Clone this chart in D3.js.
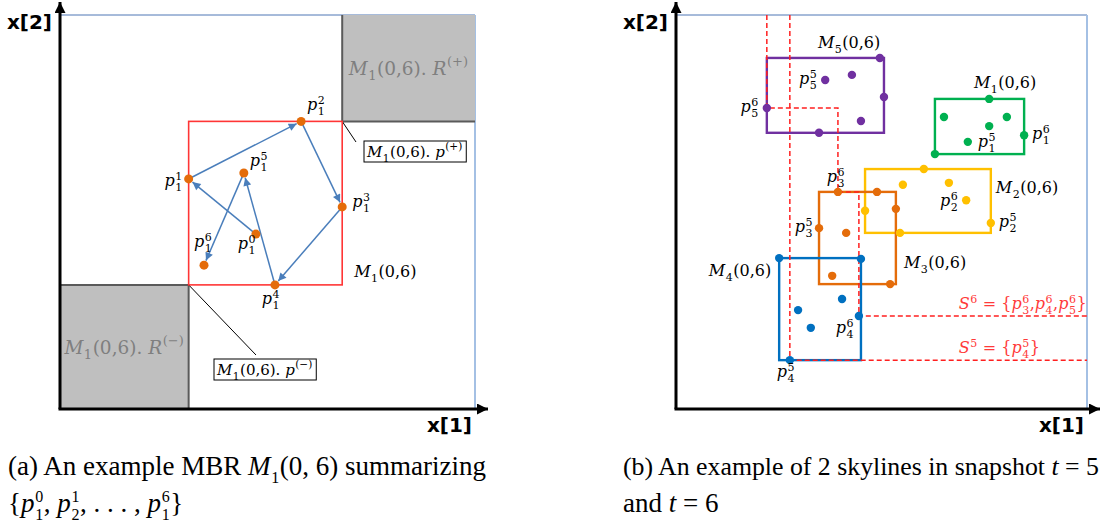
<!DOCTYPE html>
<html>
<head>
<meta charset="utf-8">
<script src="https://cdn.jsdelivr.net/npm/d3@7"></script>
<style>
  body { margin: 0; background: #fff; }
  svg { display: block; }
  text { white-space: pre; }
</style>
</head>
<body>
<div id="chart"></div>
<script>
// ---------- data (both panels use 0..100 on x[1] and x[2]) ----------

// panel (a): trajectory of object 1, snapshots t = 0..6
const trajT = [0, 1, 2, 3, 4, 5, 6]
const trajX = [47.2, 31.0, 58.1, 68.0, 51.8, 44.3, 34.7]
const trajY = [44.4, 58.4, 73.0, 51.3, 31.5, 59.9, 36.5]

// panel (b): five objects, index in each row = snapshot t
const objIds = [1, 2, 3, 4, 5]
const objX = [
    [76.2, 65.2, 80.5, 76.2, 63.0, 71.0, 84.7],
    [60.3, 55.2, 66.4, 46.0, 54.5, 76.6, 70.6],
    [48.9, 53.5, 41.4, 38.0, 52.1, 34.8, 39.4],
    [25.1, 45.0, 40.4, 29.7, 32.8, 27.7, 44.5],
    [49.6, 42.8, 50.6, 45.0, 34.8, 36.3, 22.1]
]
const objY = [
    [78.7, 74.1, 74.1, 71.8, 64.7, 67.8, 69.5],
    [60.9, 56.9, 57.4, 50.3, 44.7, 47.2, 53.0],
    [55.1, 50.8, 44.7, 33.8, 31.7, 45.9, 55.1],
    [38.3, 38.1, 27.9, 25.1, 20.6, 12.4, 23.6],
    [89.1, 84.8, 79.2, 73.1, 70.1, 83.5, 76.4]
]
const skylineTimes = [5, 6]

// ---------- styles / layout ----------
const width = 1110
const height = 527
const objColors = ["#00b050", "#ffc000", "#e46c0a", "#0070c0", "#7030a0"]
const pointColor = "#e46c0a"
const arrowColor = "#4a7ebb"
const skyColor = "#ff1f1f"
const mathFont = "DejaVu Serif"
const capFont = "Liberation Serif"

// label offsets in pixels from the point they name
const trajLabelLayout = [
    {dx: -9, dy: 15, a: "middle"},
    {dx: -6, dy: 7, a: "end"},
    {dx: 6, dy: -11, a: "start"},
    {dx: 10, dy: 0, a: "start"},
    {dx: -4, dy: 19, a: "middle"},
    {dx: 6, dy: -7, a: "start"},
    {dx: -1, dy: -18, a: "middle"}
]
const pointLabelLayout = [
    {o: 5, t: 5, dx: -8, dy: 4, a: "end"},
    {o: 5, t: 6, dx: -8, dy: 4, a: "end"},
    {o: 1, t: 5, dx: 10, dy: 5, a: "start"},
    {o: 1, t: 6, dx: 8, dy: 4, a: "start"},
    {o: 2, t: 6, dx: -8, dy: 6, a: "end"},
    {o: 2, t: 5, dx: 8, dy: 4, a: "start"},
    {o: 3, t: 6, dx: -2, dy: -10, a: "middle"},
    {o: 3, t: 5, dx: -6, dy: 4, a: "end"},
    {o: 4, t: 6, dx: -14, dy: 17, a: "middle"},
    {o: 4, t: 5, dx: -4, dy: 17, a: "middle"}
]
// MBR name labels: corner of the box (l/r, t/b) plus offset
const mbrLabelLayout = [
    {corner: "lt", dx: 39, dy: -11, a: "start"},
    {corner: "rt", dx: 5, dy: 24, a: "start"},
    {corner: "rb", dx: 8, dy: -16, a: "start"},
    {corner: "lt", dx: -8, dy: 18, a: "end"},
    {corner: "rt", dx: -66, dy: -10, a: "start"}
]

const svg = d3.select("#chart").append("svg")
    .attr("width", width)
    .attr("height", height)

const defs = svg.append("defs")
const addMarker = (id, color, w, h) => {
    defs.append("marker")
        .attr("id", id)
        .attr("viewBox", "0 0 10 10")
        .attr("refX", 10).attr("refY", 5)
        .attr("markerWidth", w).attr("markerHeight", h)
        .attr("markerUnits", "userSpaceOnUse")
        .attr("orient", "auto")
        .append("path").attr("d", "M0,0L10,5L0,10Z").attr("fill", color)
}
addMarker("ax", "#000", 13, 11)
addMarker("arr", arrowColor, 10, 8)

// pieces for math text
const I = t => ({t, it: true})
const N = t => ({t})
const S = (sup, sub) => ({sup, sub})

function mathText(parent, x, y, pieces, o) {
    const ss = o.script
    const g = parent.append("g")
        .attr("font-family", o.font)
        .attr("font-size", o.size)
        .attr("fill", o.color || "#000")
    let cx = 0
    for (const p of pieces) {
        if (p.t !== undefined) {
            const el = g.append("text").attr("x", cx).attr("y", 0).text(p.t)
            if (p.it) el.attr("font-style", "italic")
            cx += el.node().getComputedTextLength()
        } else {
            let w = 0
            const k = o.kern || 0.5
            if (p.sup != null) {
                const el = g.append("text").attr("x", cx + k).attr("y", o.supDy).attr("font-size", ss).text(p.sup)
                w = Math.max(w, el.node().getComputedTextLength())
            }
            if (p.sub != null) {
                const el = g.append("text").attr("x", cx + k).attr("y", o.subDy).attr("font-size", ss).text(p.sub)
                w = Math.max(w, el.node().getComputedTextLength())
            }
            cx += w + k + 0.5
        }
    }
    const shift = o.anchor === "end" ? -cx : o.anchor === "middle" ? -cx / 2 : 0
    g.attr("transform", `translate(${x + shift},${y})`)
    return g
}

const labelStyle = {font: mathFont, size: 16, script: 11, supDy: -6, subDy: 5}
const pLabel = (sup, sub) => [I("p"), S(sup, sub)]
const mLabel = id => [I("M"), S(null, id), N("(0,6)")]

function drawFrame(g, x, y) {
    g.append("line")
        .attr("x1", x(0)).attr("x2", x(100)).attr("y1", y(100)).attr("y2", y(100))
        .attr("stroke", "#4f76b5").attr("stroke-width", 1)
    g.append("line")
        .attr("x1", x(100)).attr("x2", x(100)).attr("y1", y(100)).attr("y2", y(0))
        .attr("stroke", "#a4c0e4").attr("stroke-width", 2)
}

function drawAxes(g, x, y) {
    g.append("line")
        .attr("x1", x(0)).attr("y1", y(0)).attr("x2", x(0)).attr("y2", y(100) - 13)
        .attr("stroke", "#000").attr("stroke-width", 3).attr("marker-end", "url(#ax)")
    g.append("line")
        .attr("x1", x(0) - 1.5).attr("y1", y(0)).attr("x2", x(100) + 13).attr("y2", y(0))
        .attr("stroke", "#000").attr("stroke-width", 3).attr("marker-end", "url(#ax)")
    g.append("text")
        .attr("x", x(0) - 8).attr("y", 29)
        .attr("text-anchor", "end")
        .attr("font-family", "DejaVu Sans").attr("font-weight", "bold").attr("font-size", 20)
        .text("x[2]")
    g.append("text")
        .attr("x", x(100) - 3).attr("y", 432)
        .attr("text-anchor", "end")
        .attr("font-family", "DejaVu Sans").attr("font-weight", "bold").attr("font-size", 20)
        .text("x[1]")
}

// ---------- panel (a) ----------
{
    const x = d3.scaleLinear([0, 100], [60, 475])
    const y = d3.scaleLinear([0, 100], [409, 15])
    const g = svg.append("g")
    drawFrame(g, x, y)

    const [x0, x1] = d3.extent(trajX)
    const [y0, y1] = d3.extent(trajY)

    // dominance regions R(+) and R(-)
    const regions = [
        {lo: [x1, y1], hi: [100, 100], sign: "(+)", edges: [[x1, y1, x1, 100], [x1, y1, 100, y1]]},
        {lo: [0, 0], hi: [x0, y0], sign: "(\u2212)", edges: [[0, y0, x0, y0], [x0, y0, x0, 0]]}
    ]
    regions.forEach(r => {
        g.append("rect")
            .attr("x", x(r.lo[0])).attr("y", y(r.hi[1]))
            .attr("width", x(r.hi[0]) - x(r.lo[0])).attr("height", y(r.lo[1]) - y(r.hi[1]))
            .attr("fill", "#bfbfbf")
        r.edges.forEach(e => g.append("line")
            .attr("x1", x(e[0])).attr("y1", y(e[1])).attr("x2", x(e[2])).attr("y2", y(e[3]))
            .attr("stroke", "#5a5a5a").attr("stroke-width", 2))
        mathText(g, (x(r.lo[0]) + x(r.hi[0])) / 2, (y(r.lo[1]) + y(r.hi[1])) / 2 + 7,
            [I("M"), S(null, "1"), N("(0,6). "), I("R"), S(r.sign, null)],
            {font: mathFont, size: 18.5, script: 13, supDy: -9, subDy: 5, anchor: "middle", color: "#7f7f7f"})
    })

    // call-outs for the corner points p(+) and p(-)
    const callouts = [
        {from: [x1, y1], to: [356, 142], box: [364, 157], sign: "(+)"},
        {from: [x0, y0], to: [256, 355], box: [214, 375], sign: "(\u2212)"}
    ]
    callouts.forEach(c => {
        g.append("line")
            .attr("x1", x(c.from[0])).attr("y1", y(c.from[1])).attr("x2", c.to[0]).attr("y2", c.to[1])
            .attr("stroke", "#000").attr("stroke-width", 1)
        const t = mathText(g, c.box[0] + 3, c.box[1],
            [I("M"), S(null, "1"), N("(0,6). "), I("p"), S(c.sign, null)],
            {font: mathFont, size: 15, script: 10.5, supDy: -7, subDy: 5})
        const bb = t.node().getBBox()
        g.append("rect")
            .attr("x", c.box[0]).attr("y", c.box[1] - 16)
            .attr("width", bb.width + 6).attr("height", 21)
            .attr("fill", "none").attr("stroke", "#000").attr("stroke-width", 1)
    })

    // the MBR
    g.append("rect")
        .attr("x", x(x0)).attr("y", y(y1))
        .attr("width", x(x1) - x(x0)).attr("height", y(y0) - y(y1))
        .attr("fill", "none").attr("stroke", "#ff3535").attr("stroke-width", 1.6)
    mathText(g, x(x1) + 12, y(y0) - 8, mLabel("1"), labelStyle)

    // movement arrows
    const steps = d3.range(trajT.length - 1).map(i => {
        const sx = x(trajX[i]), sy = y(trajY[i]), tx = x(trajX[i + 1]), ty = y(trajY[i + 1])
        const len = Math.hypot(tx - sx, ty - sy)
        const ux = (tx - sx) / len, uy = (ty - sy) / len
        return {x1: sx + ux * 2, y1: sy + uy * 2, x2: tx - ux * 5, y2: ty - uy * 5}
    })
    g.append("g")
        .selectAll("line")
        .data(steps)
        .join("line")
        .attr("x1", d => d.x1).attr("y1", d => d.y1)
        .attr("x2", d => d.x2).attr("y2", d => d.y2)
        .attr("stroke", arrowColor).attr("stroke-width", 1.5)
        .attr("marker-end", "url(#arr)")

    g.append("g")
        .selectAll("circle")
        .data(trajT)
        .join("circle")
        .attr("cx", i => x(trajX[i])).attr("cy", i => y(trajY[i]))
        .attr("r", 4.5)
        .attr("fill", pointColor)

    trajT.forEach((t, i) => {
        const L = trajLabelLayout[i]
        mathText(g, x(trajX[i]) + L.dx, y(trajY[i]) + L.dy, pLabel(String(t), "1"),
            Object.assign({anchor: L.a}, labelStyle))
    })

    drawAxes(g, x, y)
}

// ---------- panel (b) ----------
{
    const x = d3.scaleLinear([0, 100], [676, 1087])
    const y = d3.scaleLinear([0, 100], [409, 15])
    const g = svg.append("g")
    drawFrame(g, x, y)

    // MBRs of each object over t = 0..6
    const boxes = objIds.map((id, k) => {
        const [a, b] = d3.extent(objX[k])
        const [c, d] = d3.extent(objY[k])
        return {id, k, l: x(a), r: x(b), t: y(d), b: y(c)}
    })
    g.append("g")
        .selectAll("rect")
        .data(boxes)
        .join("rect")
        .attr("x", d => d.l).attr("y", d => d.t)
        .attr("width", d => d.r - d.l).attr("height", d => d.b - d.t)
        .attr("fill", "none")
        .attr("stroke", d => objColors[d.k])
        .attr("stroke-width", 2.4)

    // skylines: points of snapshot t not dominated by any other
    const skylines = skylineTimes.map(t => {
        const pts = objIds.map((id, k) => ({id, k, t, x: objX[k][t], y: objY[k][t]}))
        const sky = pts.filter(p => !pts.some(q => q !== p && q.x <= p.x && q.y <= p.y))
            .sort((a, b) => a.x - b.x)
        return {t, sky}
    })
    const step = d3.line().x(d => x(d[0])).y(d => y(d[1])).curve(d3.curveStepAfter)
    g.append("g")
        .selectAll("path")
        .data(skylines)
        .join("path")
        .attr("d", s => step([[s.sky[0].x, 100], ...s.sky.map(p => [p.x, p.y]), [100, s.sky[s.sky.length - 1].y]]))
        .attr("fill", "none")
        .attr("stroke", skyColor)
        .attr("stroke-width", 1.5)
        .attr("stroke-dasharray", "5,3")

    // points
    const allPts = objIds.flatMap((id, k) => objX[k].map((v, t) => ({k, t, x: v, y: objY[k][t]})))
    g.append("g")
        .selectAll("circle")
        .data(allPts)
        .join("circle")
        .attr("cx", d => x(d.x)).attr("cy", d => y(d.y))
        .attr("r", 4.2)
        .attr("fill", d => objColors[d.k])

    pointLabelLayout.forEach(L => {
        const k = objIds.indexOf(L.o)
        mathText(g, x(objX[k][L.t]) + L.dx, y(objY[k][L.t]) + L.dy, pLabel(String(L.t), String(L.o)),
            Object.assign({anchor: L.a}, labelStyle))
    })

    boxes.forEach((b, i) => {
        const L = mbrLabelLayout[i]
        const px = L.corner[0] === "l" ? b.l : b.r
        const py = L.corner[1] === "t" ? b.t : b.b
        mathText(g, px + L.dx, py + L.dy, mLabel(String(b.id)), Object.assign({anchor: L.a}, labelStyle))
    })

    // skyline labels
    skylines.forEach(s => {
        const lineY = y(s.sky[s.sky.length - 1].y)
        const pieces = [I("S"), S(String(s.t), null), N(" = {")]
        s.sky.slice().sort((a, b) => a.id - b.id).forEach((p, j) => {
            if (j) pieces.push(N(","))
            pieces.push(I("p"), S(String(s.t), String(p.id)))
        })
        pieces.push(N("}"))
        mathText(g, x(68.8), lineY - 7, pieces,
            Object.assign({}, labelStyle, {color: "#ff3a3a"}))
    })

    drawAxes(g, x, y)
}

// ---------- captions ----------
{
    const capStyle = {font: capFont, size: 27, script: 16, supDy: -10, subDy: 8, kern: 0.8}
    mathText(svg, 8, 475, [N("(a) An example MBR "), I("M"), S(null, "1"), N("(0, 6) summarizing")], capStyle)
    mathText(svg, 8, 512, [
        N("{"), I("p"), S("0", "1"), N(", "), I("p"), S("1", "2"), N(", . . . , "), I("p"), S("6", "1"), N("}")
    ], capStyle)
    mathText(svg, 623, 475, [N("(b) An example of 2 skylines in snapshot "), I("t"), N(" = 5")],
        Object.assign({}, capStyle, {size: 25.8}))
    mathText(svg, 623, 512, [N("and "), I("t"), N(" = 6")], capStyle)
}
</script>
</body>
</html>
